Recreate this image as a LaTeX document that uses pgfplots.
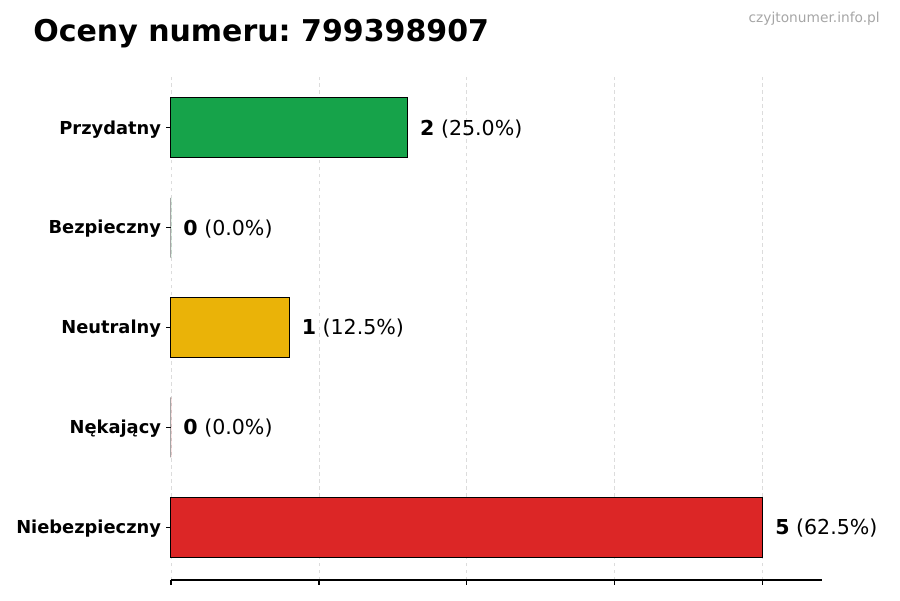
\documentclass[border=0pt]{standalone}
\usepackage{pgfplots}
\pgfplotsset{compat=1.18}
\usepackage{fontspec}
\setmainfont{DejaVu Sans}
\frenchspacing

\definecolor{barGreen}{HTML}{16A34A}
\definecolor{barYellow}{HTML}{EAB308}
\definecolor{barRed}{HTML}{DC2626}
\definecolor{gridGray}{HTML}{DCDCDC}
\definecolor{markGray}{HTML}{A6A6A6}

\begin{document}
\begin{tikzpicture}
    % page frame: 900x600 px at 0.72pt per px
    \path[use as bounding box] (0,0) rectangle (648pt,-432pt);

    \begin{axis}[
            at={(123.12pt,-417.6pt)}, anchor=south west,
            scale only axis,
            width=468.72pt, height=363.6pt,
            xmin=0, xmax=5.5,
            ymin=-0.53, ymax=4.53,
            clip=false,
            xbar, bar width=0.6, bar shift=0pt,
            axis x line*=bottom,
            axis y line*=left,
            y axis line style={draw=none},
            x axis line style={line width=0.8pt},
            xtick={0,1.25,2.5,3.75,5},
            xticklabels={},
            ytick={0,1,2,3,4},
            yticklabels={Niebezpieczny, Nękający, Neutralny, Bezpieczny, Przydatny},
            yticklabel style={font=\bfseries\fontsize{12.85}{15}\selectfont, inner sep=0pt, xshift=-3.5pt, yshift=-1pt},
            tick align=outside,
            major tick length=3.5pt,
            tick style={black, line width=0.8pt},
            xmajorgrids,
            major grid style={gridGray, dash pattern=on 2.5pt off 2.5pt, line width=0.6pt},
            point meta=explicit symbolic,
            nodes near coords,
            nodes near coords style={font=\fontsize{14.8}{17}\selectfont, black, anchor=west, inner sep=0pt, xshift=8.6pt, yshift=-0.7pt},
            every axis plot/.append style={draw=black, line width=0.72pt},
        ]
        \addplot[fill=barGreen] coordinates {(2,4) [{\textbf{2} (25.0\%)}]};
        \addplot[fill=barGreen] coordinates {(0,3) [{\textbf{0} (0.0\%)}]};
        \addplot[fill=barYellow] coordinates {(1,2) [{\textbf{1} (12.5\%)}]};
        \addplot[fill=barRed] coordinates {(0,1) [{\textbf{0} (0.0\%)}]};
        \addplot[fill=barRed] coordinates {(5,0) [{\textbf{5} (62.5\%)}]};
    \end{axis}

    \node[anchor=base west, inner sep=0pt, font=\bfseries\fontsize{21.6}{26}\selectfont]
        at (23.76pt,-29.52pt) {Oceny numeru: 799398907};
    \node[anchor=base east, inner sep=0pt, text=markGray, font=\fontsize{9.9}{12}\selectfont]
        at (633.6pt,-15.84pt) {czyjtonumer.info.pl};
\end{tikzpicture}
\end{document}
